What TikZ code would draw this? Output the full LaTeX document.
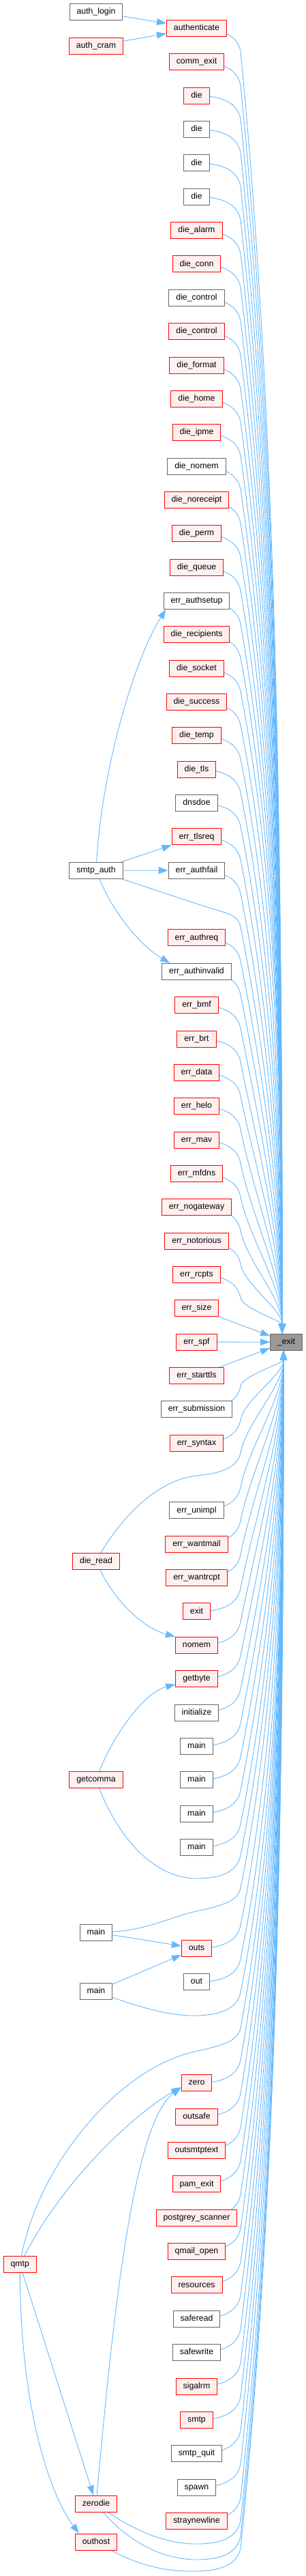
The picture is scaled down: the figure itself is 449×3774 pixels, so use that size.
\documentclass[tikz,border=0pt]{standalone}
\usepackage{fontspec}
\setmainfont{Liberation Sans}
\usepackage{tikz}
\usetikzlibrary{arrows.meta}

\definecolor{edgeblue}{HTML}{63B8FF}
\definecolor{rline}{HTML}{FF0000}
\definecolor{rfill}{HTML}{FFF0F0}
\definecolor{gline}{HTML}{666666}
\definecolor{gfill}{HTML}{FFFFFF}
\definecolor{rootgray}{HTML}{999999}

\pgfdeclarelayer{edges}
\pgfsetlayers{edges,main}

% callee column: slot/name/text/colour
\def\calleelist{0/authenticate/authenticate/r,1/commexit/comm\_exit/r,2/dieA/die/r,3/dieB/die/g,4/dieC/die/g,5/dieD/die/g,6/diealarm/die\_alarm/r,7/dieconn/die\_conn/r,8/diecontrolA/die\_control/g,9/diecontrolB/die\_control/r,10/dieformat/die\_format/r,11/diehome/die\_home/r,12/dieipme/die\_ipme/r,13/dienomem/die\_nomem/g,14/dienoreceipt/die\_noreceipt/r,15/dieperm/die\_perm/r,16/diequeue/die\_queue/r,17/errauthsetup/err\_authsetup/g,18/dierecipients/die\_recipients/r,19/diesocket/die\_socket/r,20/diesuccess/die\_success/r,21/dietemp/die\_temp/r,22/dietls/die\_tls/r,23/dnsdoe/dnsdoe/g,24/errtlsreq/err\_tlsreq/r,25/errauthfail/err\_authfail/g,27/errauthreq/err\_authreq/r,28/errauthinvalid/err\_authinvalid/g,29/errbmf/err\_bmf/r,30/errbrt/err\_brt/r,31/errdata/err\_data/r,32/errhelo/err\_helo/r,33/errmav/err\_mav/r,34/errmfdns/err\_mfdns/r,35/errnogateway/err\_nogateway/r,36/errnotorious/err\_notorious/r,37/errrcpts/err\_rcpts/r,38/errsize/err\_size/r,39/errspf/err\_spf/r,40/errstarttls/err\_starttls/r,41/errsubmission/err\_submission/g,42/errsyntax/err\_syntax/r,44/errunimpl/err\_unimpl/g,45/errwantmail/err\_wantmail/r,46/errwantrcpt/err\_wantrcpt/r,47/exitfn/exit/r,48/nomem/nomem/r,49/getbyte/getbyte/r,50/initialize/initialize/g,51/mainC/main/g,52/mainD/main/g,53/mainE/main/g,54/mainF/main/g,57/outs/outs/r,58/out/out/g,61/zero/zero/r,62/outsafe/outsafe/r,63/outsmtptext/outsmtptext/r,64/pamexit/pam\_exit/r,65/postgreyscanner/postgrey\_scanner/r,66/qmailopen/qmail\_open/r,67/resources/resources/r,68/saferead/saferead/g,69/safewrite/safewrite/g,70/sigalrm/sigalrm/r,71/smtp/smtp/r,72/smtpquit/smtp\_quit/g,73/spawn/spawn/g,74/straynewline/straynewline/r}

% edge into the top of _exit: #1 path to the bend, #2 first control, #3 height of bend
\newcommand{\exitabove}[3]{%
  \pgfmathsetmacro\py{#3+34}%
  \pgfmathsetmacro\dd{1953.7-\py}%
  \pgfmathsetmacro\hh{0.3*\dd}%
  \pgfmathsetmacro\ss{min(0.2*\hh,55)}%
  \draw[call] #1 .. controls #2 and (349,#3+14) .. (353,\py)
    .. controls ({353+\ss},{\py+\hh}) and (414,{1953.7-0.35*\dd}) .. (intop);}
% edge into the bottom of _exit
\newcommand{\exitbelow}[3]{%
  \pgfmathsetmacro\py{#3-34}%
  \pgfmathsetmacro\dd{\py-1978.7}%
  \pgfmathsetmacro\hh{0.3*\dd}%
  \pgfmathsetmacro\ss{min(0.2*\hh,55)}%
  \draw[call] #1 .. controls #2 and (349,#3-14) .. (353,\py)
    .. controls ({353+\ss},{\py-\hh}) and (416,{1978.7+0.35*\dd}) .. (inbot);}

\begin{document}
\begin{tikzpicture}[x=1pt,y=-1pt,
  fn/.style={draw=#1line,fill=#1fill,line width=1pt,minimum height=24pt,
    inner xsep=10.5pt,inner ysep=0pt,text height=8.8pt,text depth=2.6pt,
    font=\fontsize{12.3}{14}\selectfont},
  fnroot/.style={fn=g,fill=rootgray},
  call/.style={draw=edgeblue,line width=0.9pt,-{Triangle[length=14pt,width=10pt]}}]
  \useasboundingbox (0,0) rectangle (449,3774);

  % callees of _exit
  \foreach \k/\nm/\tx/\st in \calleelist
    \node[fn=\st] (\nm) at (288.5,{41.5+49.35*\k}) {\tx};

  % callers further left
  \node[fn=g] (authlogin) at (141,17.3) {auth\_login};
  \node[fn=r] (authcram) at (141,67.3) {auth\_cram};
  \node[fn=g] (smtpauth) at (141,1275.25) {smtp\_auth};
  \node[fn=r] (dieread) at (141,2287) {die\_read};
  \node[fn=r] (getcomma) at (141,2607.7) {getcomma};
  \node[fn=g] (mainA) at (141,2831) {main};
  \node[fn=g] (mainB) at (141,2917.3) {main};
  \node[fn=r] (zerodie) at (141,3668) {zerodie};
  \node[fn=r] (outhost) at (141,3724) {outhost};
  \node[fn=r] (qmtp) at (29.3,3317.7) {qmtp};
  \node[fnroot] (exit) at (420,1966.2) {\_exit};
  \coordinate (intop) at ([xshift=-6pt]exit.north);
  \coordinate (inbot) at ([xshift=-4pt]exit.south);

  \begin{pgfonlayer}{edges}
  \foreach \k/\nm/\tx/\st in \calleelist {
    \pgfmathsetmacro\yy{41.5+49.35*\k}
    \ifnum\k<38 \exitabove{(\nm.center)}{(332,\yy)}{\yy}\fi
    \ifnum\k>40 \exitbelow{(\nm.center)}{(332,\yy)}{\yy}\fi
  }
  \draw[call] (errsize) -- (exit);
  \draw[call] (errspf) -- (exit);
  \draw[call] (errstarttls) -- (exit);

  \exitabove{(smtpauth.center) -- (288.5,1324)}{(330,1338)}{1324}
  \exitbelow{(dieread.center) .. controls (175,2225) and (230,2168) .. (288.5,2162)}{(330,2158)}{2162}
  \exitbelow{(getcomma.center) .. controls (170,2690) and (225,2752) .. (288.5,2752)}{(332,2752)}{2752}
  \exitbelow{(mainA.center) .. controls (210,2832) and (250,2808) .. (288.5,2800)}{(325,2792)}{2800}
  \exitbelow{(mainB.center) .. controls (200,2940) and (250,2954) .. (288.5,2953)}{(330,2952)}{2953}
  \exitbelow{(qmtp.center) .. controls (50,3180) and (170,3030) .. (288.5,3005)}{(325,2997)}{3005}
  \exitbelow{(zerodie.center) .. controls (190,3705) and (240,3727) .. (288.5,3727)}{(332,3727)}{3727}
  \exitbelow{(zerodie.center) .. controls (185,3725) and (240,3750) .. (288.5,3750)}{(332,3750)}{3750}
  \exitbelow{(outhost.center) .. controls (200,3760) and (245,3768) .. (288.5,3767)}{(332,3766)}{3767}

  \draw[call] (authlogin) -- (authenticate);
  \draw[call] (authcram) -- (authenticate);
  \draw[call] (smtpauth) .. controls (150,1120) and (200,960) .. ([xshift=4pt]errauthsetup.south west);
  \draw[call] (smtpauth) -- (errtlsreq);
  \draw[call] (smtpauth) -- (errauthfail);
  \draw[call] (smtpauth) .. controls (165,1335) and (205,1385) .. ([xshift=12pt]errauthinvalid.north west);
  \draw[call] (dieread) .. controls (168,2345) and (210,2385) .. (nomem.north west);
  \draw[call] (getcomma) .. controls (165,2545) and (210,2480) .. ([yshift=-8pt]getbyte.west);
  \draw[call] (mainA) -- (outs);
  \draw[call] (mainB) -- (outs);
  \draw[call] (qmtp) .. controls (95,3190) and (200,3095) .. ([yshift=-6pt]zero.west);
  \draw[call] (zerodie) .. controls (165,3400) and (195,3110) .. ([yshift=-7pt]zero.west);
  \draw[call] (qmtp) -- (zerodie);
  \draw[call] (qmtp) .. controls (30,3520) and (70,3650) .. ([xshift=6pt]outhost.north west);
  \end{pgfonlayer}
\end{tikzpicture}
\end{document}
